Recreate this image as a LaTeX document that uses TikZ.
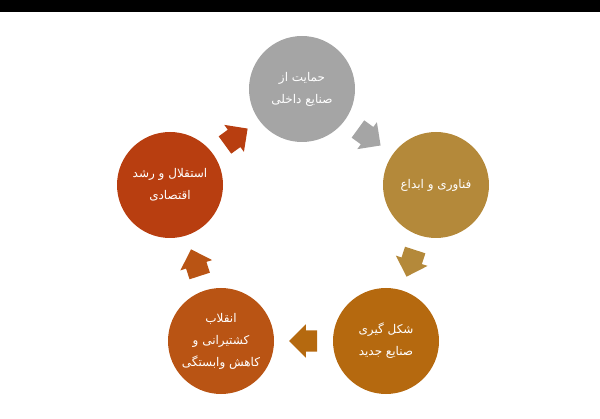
\documentclass[tikz,border=0pt]{standalone}
\usepackage{fontspec}
\usetikzlibrary{shapes.arrows,calc}
\newfontfamily\arabicfont[Script=Arabic]{DejaVu Sans}
\TeXXeTstate=1
\definecolor{mygray}{HTML}{A5A5A5}
\definecolor{mygold}{HTML}{B4893A}
\definecolor{myorange}{HTML}{B5690F}
\definecolor{myrust}{HTML}{B95414}
\definecolor{myred}{HTML}{B83E10}
\newcommand{\fa}[1]{\beginR #1\endR}
\tikzset{
  stepcircle/.style = {circle, draw = none, minimum size = 106pt, inner sep = 0pt,
    text = white, align = center, font = \arabicfont\fontsize{12}{22}\selectfont},
  blockarrow/.style = {single arrow, draw = none, minimum height = 28pt,
    inner xsep = 0pt, inner ysep = 10.5pt, single arrow head extend = 6pt,
    single arrow tip angle = 90}
}
\begin{document}
\begin{tikzpicture}[x=1pt, y=1pt]
\useasboundingbox (0,0) rectangle (600,418);
\fill[black] (0,406) rectangle (600,418);
\node[stepcircle, fill = mygray] (support) at (302,329) {\fa{حمایت از}\\\fa{صنایع داخلی}};
\node[stepcircle, fill = mygold] (tech) at (436,233) {\fa{فناوری و ابداع}};
\node[stepcircle, fill = myorange] (newind) at (386,77) {\fa{شکل گیری}\\\fa{صنایع جدید}};
\node[stepcircle, fill = myrust] (shipping) at (221,77) {\fa{انقلاب}\\\fa{کشتیرانی و}\\\fa{کاهش وابستگی}};
\node[stepcircle, fill = myred] (growth) at (170,233) {\fa{استقلال و رشد}\\\fa{اقتصادی}};
\node[blockarrow, fill = mygray, rotate = -36] (a1) at ($(support)!0.5!(tech)!5pt!(support)$) {};
\node[blockarrow, fill = mygold, rotate = -108] (a2) at ($(tech)!0.5!(newind)!5pt!(tech)$) {};
\node[blockarrow, fill = myorange, rotate = 180] (a3) at ($(newind)!0.5!(shipping)!5pt!(newind)$) {};
\node[blockarrow, fill = myrust, rotate = 108] (a4) at ($(shipping)!0.5!(growth)!5pt!(shipping)$) {};
\node[blockarrow, fill = myred, rotate = 36] (a5) at ($(growth)!0.5!(support)!5pt!(growth)$) {};
\end{tikzpicture}
\end{document}
